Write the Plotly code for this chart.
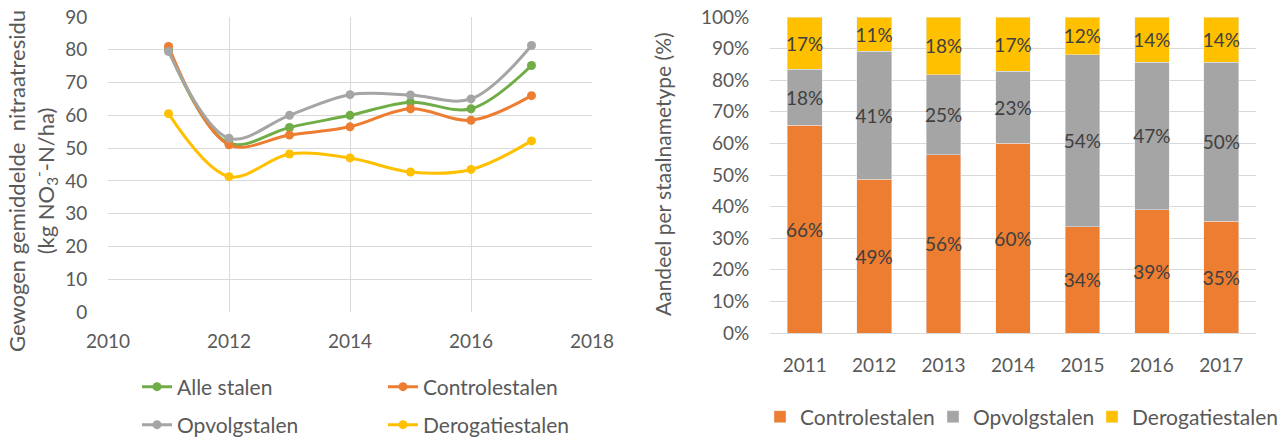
import plotly.graph_objects as go

# left chart: weighted mean nitrate residue per sample type
years = [2011, 2012, 2013, 2014, 2015, 2016, 2017]
alle_stalen = [80.0, 51.5, 56.3, 60.0, 64.0, 62.0, 75.2]
controlestalen = [81.0, 51.0, 54.0, 56.5, 62.0, 58.5, 66.0]
opvolgstalen = [79.5, 53.0, 60.0, 66.3, 66.2, 65.0, 81.3]
derogatiestalen = [60.5, 41.3, 48.2, 47.0, 42.7, 43.5, 52.2]

# right chart: share per sample type (%)
bar_years = ['2011', '2012', '2013', '2014', '2015', '2016', '2017']
aandeel_controle = [65.8, 48.6, 56.4, 60.0, 33.7, 39.0, 35.3]
aandeel_opvolg = [17.6, 40.5, 25.3, 22.9, 54.4, 46.7, 50.4]
aandeel_derogatie = [16.6, 10.9, 18.3, 17.1, 11.9, 14.3, 14.3]

green = '#70AD47'
orange = '#ED7D31'
grey = '#A5A5A5'
yellow = '#FFC000'
text_color = '#595959'
grid_color = '#D9D9D9'
font_family = 'Lato, Open Sans, sans-serif'

W, H = 1284, 439


def px_x(p):
    return p / W


def px_y(p):
    return 1 - p / H


fig = go.Figure()

# (name, values, colour, legend id, legend position in px) - drawn in this order
line_series = [
    ('Alle stalen', alle_stalen, green, 'legend2', (137, 387)),
    ('Controlestalen', controlestalen, orange, 'legend3', (383, 387)),
    ('Opvolgstalen', opvolgstalen, grey, 'legend4', (137, 425)),
    ('Derogatiestalen', derogatiestalen, yellow, 'legend5', (383, 425)),
]
for name, values, color, leg, pos in line_series:
    fig.add_trace(go.Scatter(x=years, y=values, name=name,
                             mode='lines+markers',
                             line=dict(color=color, width=3, shape='spline', smoothing=1.0),
                             marker=dict(color=color, size=9),
                             legend=leg,
                             xaxis='x', yaxis='y'))

bar_series = [
    ('Controlestalen', aandeel_controle, orange, 'legend6', (760, 417)),
    ('Opvolgstalen', aandeel_opvolg, grey, 'legend7', (933, 417)),
    ('Derogatiestalen', aandeel_derogatie, yellow, 'legend8', (1092, 417)),
]
for name, values, color, leg, pos in bar_series:
    fig.add_trace(go.Bar(x=bar_years, y=values, name=name,
                         marker_color=color,
                         texttemplate='%{y:.0f}%',
                         textposition='inside',
                         insidetextanchor='middle',
                         textangle=0,
                         constraintext='none',
                         textfont=dict(color='#404040', size=19, family=font_family),
                         legend=leg,
                         xaxis='x2', yaxis='y2'))

axis_font = dict(size=19, color=text_color, family=font_family)
# invisible ticks just to push the y labels away from the plot
hidden_ticks = dict(ticks='outside', ticklen=16, tickcolor='rgba(0,0,0,0)')

fig.update_layout(
    width=W, height=H,
    margin=dict(l=0, r=0, t=0, b=0, autoexpand=False),
    paper_bgcolor='white',
    plot_bgcolor='white',
    barmode='stack',
    bargap=0.5,
    showlegend=True,
    font=dict(family=font_family, color=text_color),
    xaxis=dict(domain=[px_x(108), px_x(592)], range=[2010, 2018], dtick=2,
               tick0=2010, showgrid=True, gridcolor=grid_color, gridwidth=1,
               zeroline=False, showline=False, tickfont=axis_font,
               ticks='', ticklabelstandoff=16, anchor='y', automargin=False),
    yaxis=dict(domain=[px_y(312), px_y(17)], range=[0, 90], dtick=10,
               showgrid=True, gridcolor=grid_color, zeroline=False,
               showline=False, tickfont=axis_font, **hidden_ticks,
               anchor='x', automargin=False),
    xaxis2=dict(domain=[px_x(770), px_x(1256)], type='category',
                showgrid=False, showline=True, linecolor=grid_color, linewidth=1,
                tickfont=axis_font, ticks='', ticklabelstandoff=15, anchor='y2',
                automargin=False),
    yaxis2=dict(domain=[px_y(333), px_y(17)], range=[0, 100], dtick=10,
                ticksuffix='%', showgrid=True, gridcolor=grid_color,
                zeroline=False, showline=False, tickfont=axis_font, **hidden_ticks,
                anchor='x2', automargin=False),
)

# one small legend per entry so every entry sits where the original has it
legends = {}
for name, values, color, leg, pos in line_series + bar_series:
    legends[leg] = dict(x=px_x(pos[0]), y=px_y(pos[1]), xanchor='left', yanchor='middle',
                        font=dict(size=21, color=text_color, family=font_family),
                        bgcolor='rgba(0,0,0,0)', visible=True)
fig.update_layout(**legends)

# axis titles as annotations so they sit where the original has them
fig.add_annotation(text='Gewogen gemiddelde  nitraatresidu<br>(kg NO<sub>3</sub><sup>-</sup>-N/ha)',
                   x=px_x(32), y=px_y(181), xref='paper', yref='paper',
                   xanchor='center', yanchor='middle',
                   textangle=-90, showarrow=False,
                   font=dict(size=22, color=text_color, family=font_family))
fig.add_annotation(text='Aandeel per staalnametype (%)',
                   x=px_x(662), y=px_y(174), xref='paper', yref='paper',
                   xanchor='center', yanchor='middle',
                   textangle=-90, showarrow=False,
                   font=dict(size=21, color=text_color, family=font_family))

# drop the default 8px body margin so the figure fills the window exactly
fig.write_html('out.html', config={'displayModeBar': False},
               post_script="document.body.style.margin='0';")
